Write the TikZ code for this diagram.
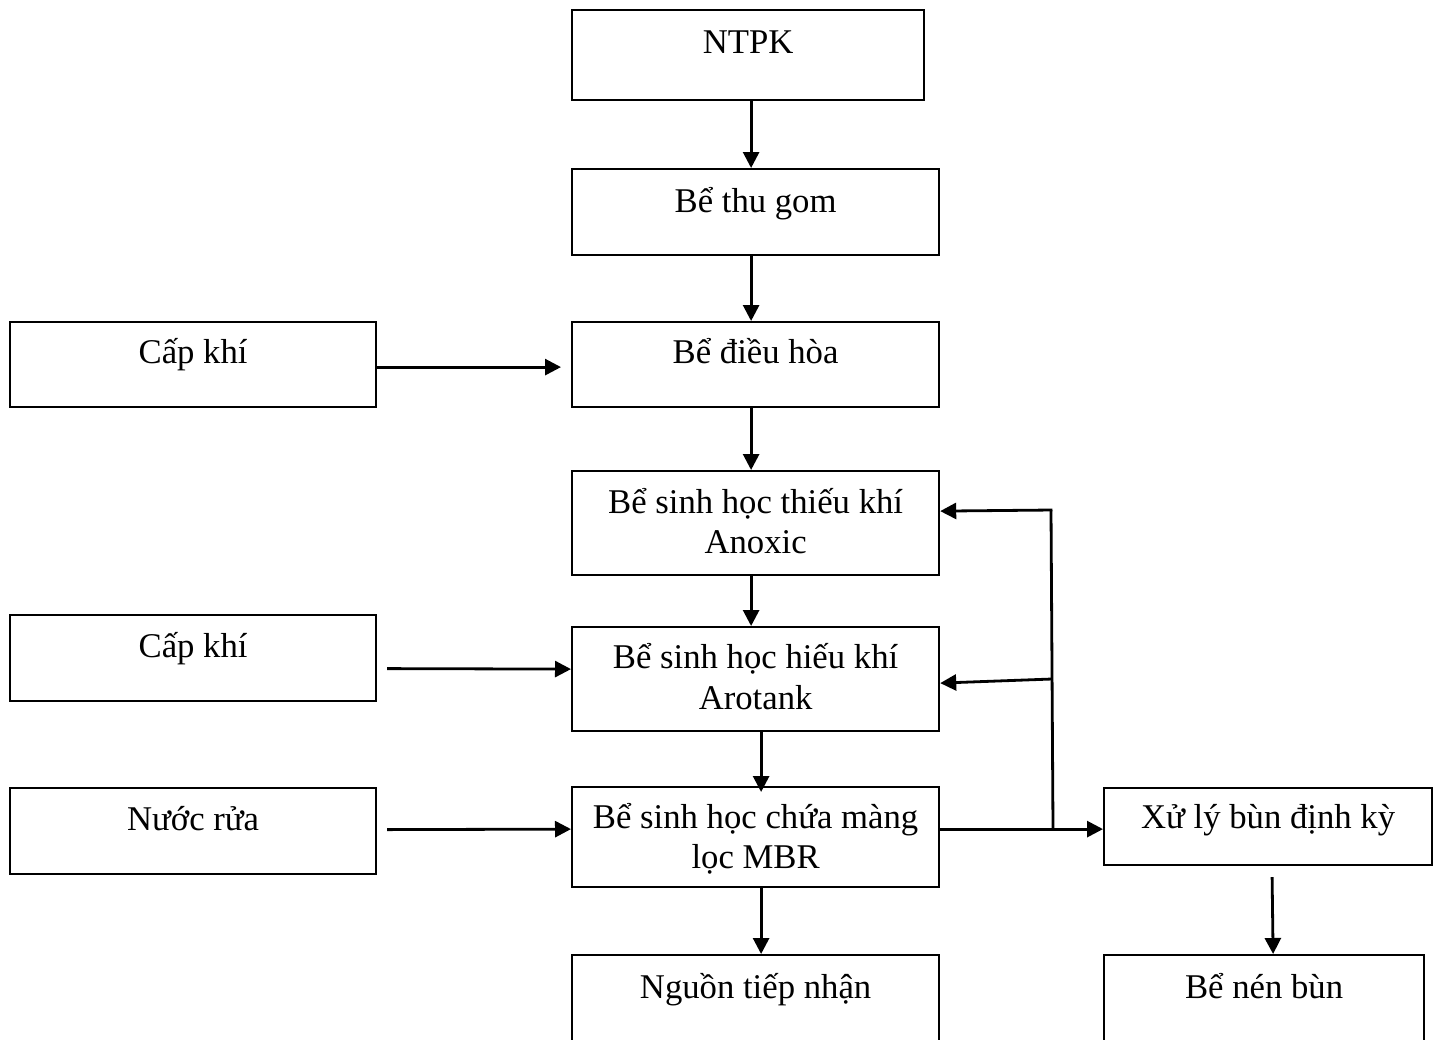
\documentclass[tikz,border=0pt]{standalone}
\usepackage{fontspec}
\setmainfont{Liberation Serif}
\usetikzlibrary{arrows.meta}
\tikzset{
  box/.style={draw=black, line width=2.2pt, fill=white, anchor=north west, inner sep=0pt},
  txt/.style={anchor=base, inner sep=0pt, font=\fontsize{34.7}{40}\selectfont},
  conn/.style={line width=2.8pt, draw=black},
  arr/.style={conn, -{Triangle[length=16pt,width=16pt]}},
}
\begin{document}
\begin{tikzpicture}[x=1pt,y=-1pt]
\useasboundingbox (0,0) rectangle (1439,1039);
\clip (0,0) rectangle (1439,1039);
\fill[white] (0,0) rectangle (1439,1039);

% boxes
\node[box, minimum width=352pt, minimum height=90pt] (ntpk) at (571,9) {};
\node[box, minimum width=367pt, minimum height=86pt] (thu) at (571,168) {};
\node[box, minimum width=367pt, minimum height=85pt] (dh) at (571,321) {};
\node[box, minimum width=366pt, minimum height=85pt] (ca1) at (9,321) {};
\node[box, minimum width=367pt, minimum height=104pt] (anox) at (571,470) {};
\node[box, minimum width=366pt, minimum height=86pt] (ca2) at (9,614) {};
\node[box, minimum width=367pt, minimum height=104pt] (aro) at (571,626) {};
\node[box, minimum width=366pt, minimum height=86pt] (nuoc) at (9,787) {};
\node[box, minimum width=367pt, minimum height=100pt] (mbr) at (571,786) {};
\node[box, minimum width=367pt, minimum height=110pt] (nguon) at (571,954) {};
\node[box, minimum width=328pt, minimum height=77pt] (xu) at (1103,787) {};
\node[box, minimum width=320pt, minimum height=110pt] (nen) at (1103,954) {};

% texts
\node[txt] (ntpk-t) at ([yshift=-44pt]ntpk.north) {NTPK};
\node[txt] (thu-t) at ([yshift=-44pt]thu.north) {Bể thu gom};
\node[txt] (dh-t) at ([yshift=-42pt]dh.north) {Bể điều hòa};
\node[txt] (ca1-t) at ([yshift=-42pt]ca1.north) {Cấp khí};
\node[txt] (anox-t1) at ([yshift=-43pt]anox.north) {Bể sinh học thiếu khí};
\node[txt] (anox-t2) at ([yshift=-83pt]anox.north) {Anoxic};
\node[txt] (ca2-t) at ([yshift=-43pt]ca2.north) {Cấp khí};
\node[txt] (aro-t1) at ([yshift=-42pt]aro.north) {Bể sinh học hiếu khí};
\node[txt] (aro-t2) at ([yshift=-83pt]aro.north) {Arotank};
\node[txt] (nuoc-t) at ([yshift=-43pt]nuoc.north) {Nước rửa};
\node[txt] (mbr-t1) at ([yshift=-42pt]mbr.north) {Bể sinh học chứa màng};
\node[txt] (mbr-t2) at ([yshift=-82pt]mbr.north) {lọc MBR};
\node[txt] (nguon-t) at ([yshift=-44pt]nguon.north) {Nguồn tiếp nhận};
\node[txt] (xu-t) at ([yshift=-41pt]xu.north) {Xử lý bùn định kỳ};
\node[txt] (nen-t) at ([yshift=-44pt]nen.north) {Bể nén bùn};

% main flow
\draw[arr] ([xshift=3pt]ntpk.south) -- ([xshift=-4.5pt]thu.north);
\draw[arr] ([xshift=-4.5pt]thu.south) -- ([xshift=-4.5pt]dh.north);
\draw[arr] ([xshift=-4.5pt]dh.south) -- ([xshift=-4.5pt]anox.north);
\draw[arr] ([xshift=-4.5pt]anox.south) -- ([xshift=-4.5pt]aro.north);
\draw[arr] ([xshift=5.5pt]aro.south) -- ([xshift=5.5pt,yshift=-6pt]mbr.north);
\draw[arr] ([xshift=5.5pt]mbr.south) -- ([xshift=5.5pt]nguon.north);

% side inputs
\draw[arr] ([yshift=-2.5pt]ca1.east) -- ([xshift=-10pt,yshift=-2.5pt]dh.west);
\draw[arr] ([xshift=10pt,yshift=-10.5pt]ca2.east) -- ([yshift=10pt]aro.west);
\draw[arr] ([xshift=10pt,yshift=1.5pt]nuoc.east) -- ([yshift=8pt]mbr.west);

% sludge line and recirculation
\draw[arr] ([yshift=8pt]mbr.east) -- ([yshift=-2.5pt]xu.west);
\coordinate (jb) at (1053,828);
\coordinate (jm) at (1052,679);
\coordinate (jt) at (1051,510);
\draw[conn] (jb) -- (jt);
\draw[arr] ([xshift=1.4pt]jt) -- ([yshift=12pt]anox.east);
\draw[arr] (jm) -- ([yshift=-4pt]aro.east);
\draw[arr] ([xshift=4pt,yshift=-11pt]xu.south) -- ([xshift=9pt]nen.north);
\end{tikzpicture}
\end{document}
